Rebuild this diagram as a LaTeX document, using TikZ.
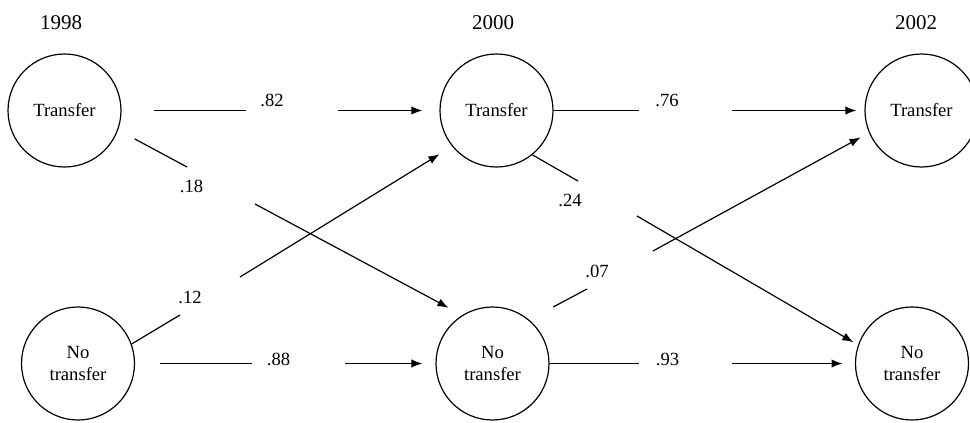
\documentclass[tikz,border=0pt]{standalone}
\usepackage{fontspec}
\setmainfont{Liberation Serif}
\usetikzlibrary{automata, arrows.meta}

\tikzset{
	every state/.style={minimum size=56.5pt, inner sep=0pt, align=center,
		font=\fontsize{9.3}{11}\selectfont},
	prob/.style={inner sep=0pt, font=\fontsize{9.3}{11}\selectfont},
	year/.style={inner sep=0pt, font=\fontsize{10.5}{12}\selectfont}
}

\begin{document}
\begin{tikzpicture}[x=0.5pt, y=-0.5pt, line width=0.6pt, >={Latex[length=5.5pt,width=4.2pt]}]
	\useasboundingbox (0,0) rectangle (970,423);

	\node[year] (y98) at (61,23) {1998};
	\node[year] (y00) at (493,23) {2000};
	\node[year] (y02) at (916,23) {2002};

	\node[state] (t98) at (64.5,110.5) {Transfer};
	\node[state] (t00) at (496.5,110.5) {Transfer};
	\node[state] (t02) at (921.5,110.5) {Transfer};
	\node[state] (n98) at (78,363.5) {No\\transfer};
	\node[state] (n00) at (492.5,363.5) {No\\transfer};
	\node[state] (n02) at (912,363.5) {No\\transfer};

	% ends of the gaps where the values stand
	\coordinate (a1) at (246,110.5); \coordinate (b1) at (338,110.5);
	\coordinate (a2) at (639,110.5); \coordinate (b2) at (732,110.5);
	\coordinate (a3) at (187,167);   \coordinate (b3) at (255,204);
	\coordinate (a4) at (180,315);   \coordinate (b4) at (240,277);
	\coordinate (a5) at (578,181);   \coordinate (b5) at (637,216);
	\coordinate (a6) at (587,289);   \coordinate (b6) at (653,251);
	\coordinate (a7) at (252,363.5); \coordinate (b7) at (345,363.5);
	\coordinate (a8) at (639,363.5); \coordinate (b8) at (732,363.5);

	\node[prob] (p1) at (272,100) {.82};
	\node[prob] (p2) at (667,100) {.76};
	\node[prob] (p3) at (191.5,186) {.18};
	\node[prob] (p4) at (190,297) {.12};
	\node[prob] (p5) at (570,200.5) {.24};
	\node[prob] (p6) at (597,271) {.07};
	\node[prob] (p7) at (278.5,359) {.88};
	\node[prob] (p8) at (667.5,359.5) {.93};

	\draw
		(t98) edge[shorten <=16pt] (a1)
		(b1) edge[->, shorten >=8.5pt] (t00)

		(t00) edge[] (a2)
		(b2) edge[->, shorten >=4pt] (t02)

		(t98.-20) edge[shorten <=9.3pt] (a3)
		(b3) edge[->, shorten >=7.8pt] (n00.122)

		(n98.20) edge[] (a4)
		(b4) edge[->, shorten >=7.5pt] (t00.219)

		(t00.-51) edge[] (a5)
		(b5) edge[->, shorten >=2.7pt] (n02.161)

		(n00.50) edge[shorten <=13.6pt] (a6)
		(b6) edge[->, shorten >=4.8pt] (t02.203)

		(n98) edge[shorten <=12.2pt] (a7)
		(b7) edge[->, shorten >=6.5pt] (n00)

		(n00) edge[] (a8)
		(b8) edge[->, shorten >=6.2pt] (n02)
		;
\end{tikzpicture}
\end{document}
